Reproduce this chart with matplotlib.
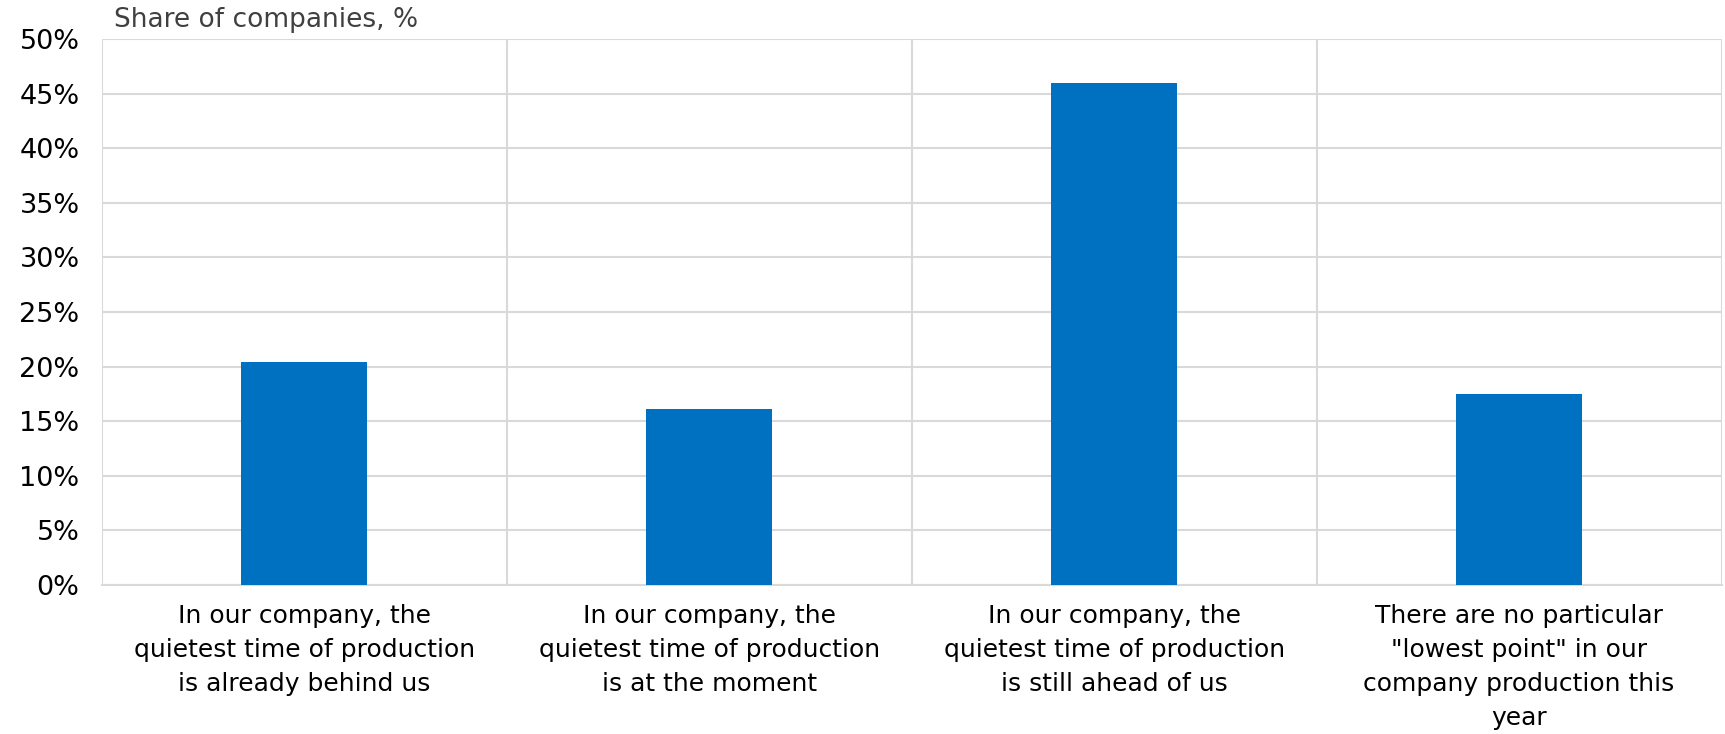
import matplotlib.pyplot as plt
from matplotlib.ticker import MultipleLocator, FuncFormatter

# survey answers and share of companies (%)
answers = [
    "In our company, the\nquietest time of production\nis already behind us",
    "In our company, the\nquietest time of production\nis at the moment",
    "In our company, the\nquietest time of production\nis still ahead of us",
    "There are no particular\n\"lowest point\" in our\ncompany production this\nyear",
]
shares = [20.4, 16.1, 46.0, 17.5]

plt.rcParams['font.family'] = ['DejaVu Sans']
grid_col = '#d9d9d9'

fig = plt.figure(figsize=(17.25, 7.34), dpi=100)
ax = fig.add_axes([0.059, 0.203, 0.939, 0.744])

pos = list(range(len(answers)))
ax.bar(pos, shares, width=0.31, color='#0070c0', zorder=3)

ax.set_xlim(-0.5, len(answers) - 0.5)
ax.set_ylim(0, 50)
ax.yaxis.set_major_locator(MultipleLocator(5))
ax.yaxis.set_major_formatter(FuncFormatter(lambda v, p: f"{v:.0f}%"))
ax.set_xticks(pos)
ax.set_xticklabels(answers, fontsize=18, linespacing=1.52)
ax.tick_params(axis='y', labelsize=19.5, length=0, pad=16)
ax.tick_params(axis='x', length=0, pad=14)

# horizontal grid plus separators between answer groups
ax.grid(axis='y', color=grid_col, linewidth=1.5, zorder=0)
for b in range(len(answers) + 1):
    ax.axvline(b - 0.5, color=grid_col, linewidth=1.5, zorder=0)

for s in ax.spines.values():
    s.set_visible(False)
ax.spines['bottom'].set_visible(True)
ax.spines['bottom'].set_color(grid_col)
ax.spines['bottom'].set_linewidth(1.5)

fig.text(0.066, 0.973, "Share of companies, %", fontsize=19, color='#404040',
         va='center', ha='left')

fig.savefig('out.png', dpi=100)
